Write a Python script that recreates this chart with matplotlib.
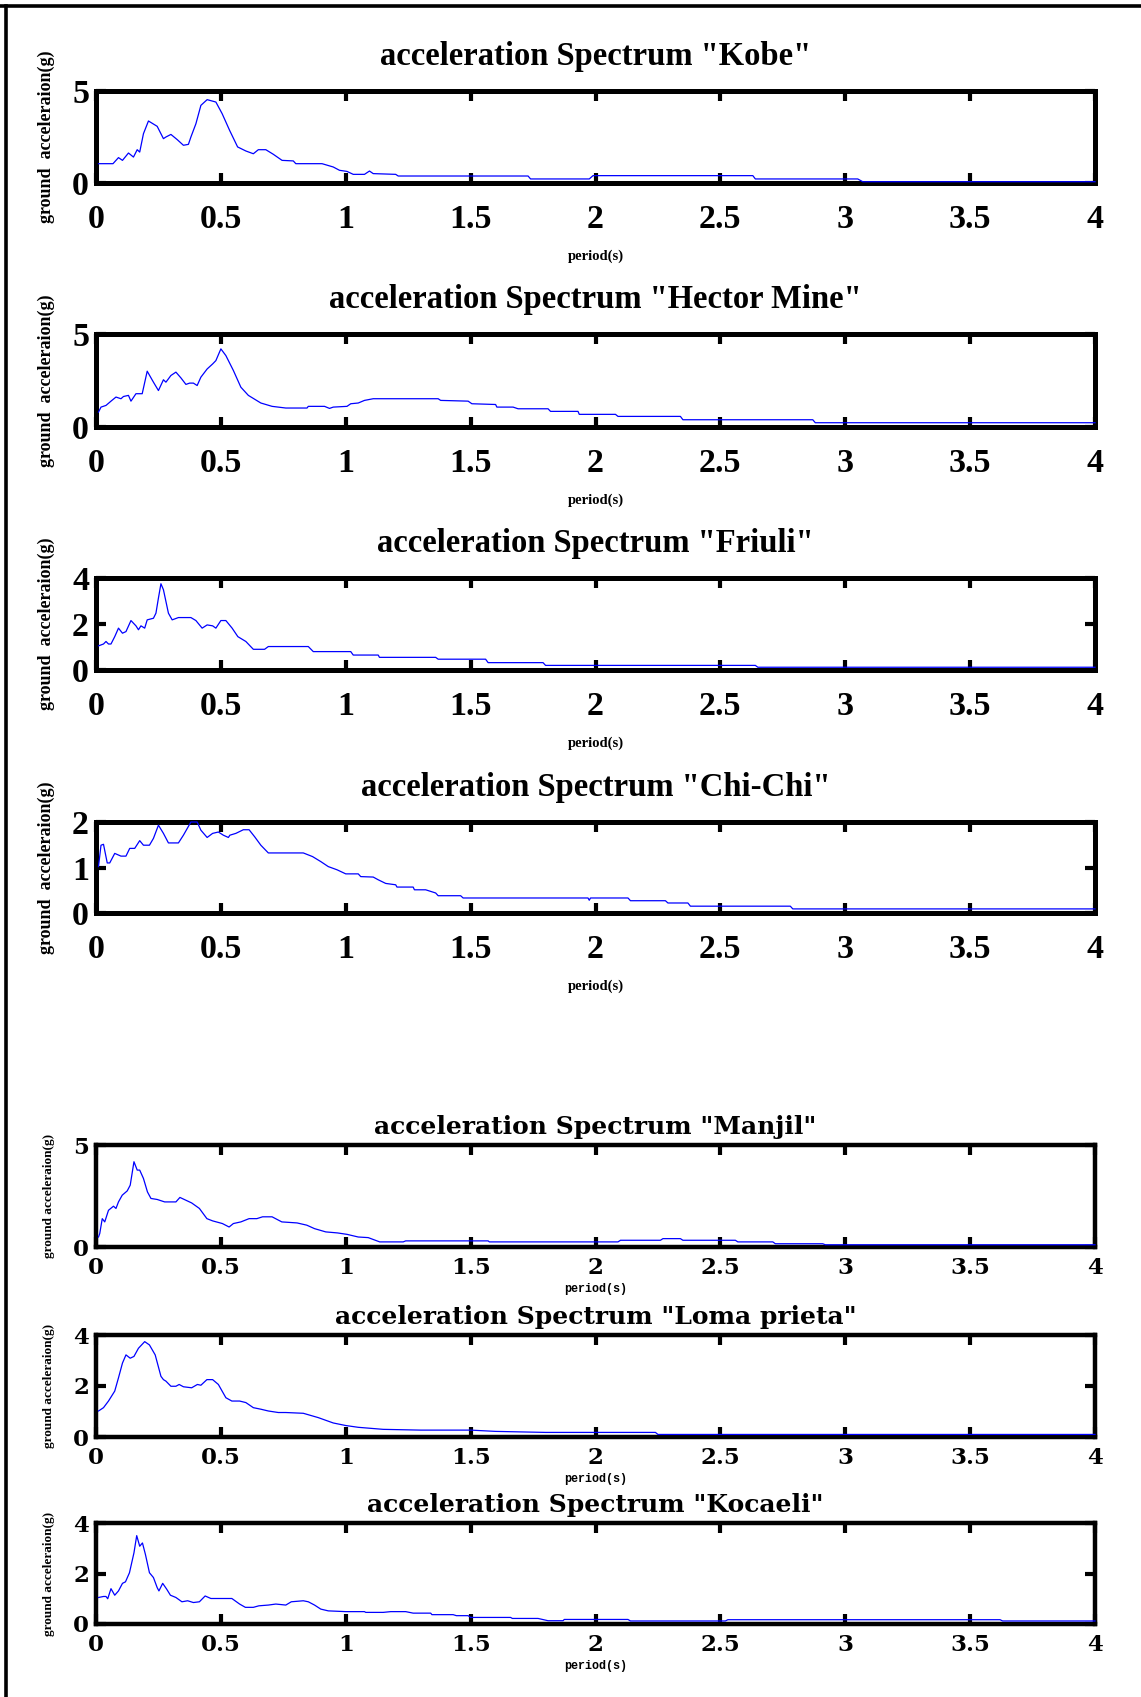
"""Acceleration response spectra of seven ground motions, MATLAB-style panels."""

import numpy as np
import matplotlib
matplotlib.use("Agg")
from matplotlib import pyplot as plt
from matplotlib.lines import Line2D
from matplotlib.ticker import FormatStrFormatter

# ---- data: period (s) and spectral acceleration (g) ----
kobe_t = [0.01, 0.068, 0.09, 0.106, 0.13, 0.15, 0.165, 0.175, 0.19, 0.21, 0.245, 0.27, 0.28, 0.30,
          0.325, 0.35, 0.37, 0.38, 0.40, 0.42, 0.445, 0.48, 0.505, 0.535, 0.567, 0.60, 0.63, 0.65,
          0.68, 0.71, 0.745, 0.79, 0.80, 0.905, 0.95, 0.975, 1.005, 1.03, 1.075, 1.095, 1.11, 1.2,
          1.21, 1.73, 1.74, 1.975, 1.99, 2.63, 2.64, 3.05, 3.07, 4.0]
kobe_sa = [1.05, 1.05, 1.38, 1.23, 1.63, 1.41, 1.81, 1.68, 2.68, 3.37, 3.08, 2.41, 2.5, 2.64,
           2.36, 2.05, 2.1, 2.5, 3.22, 4.22, 4.53, 4.40, 3.77, 2.86, 1.96, 1.74, 1.59, 1.81,
           1.81, 1.56, 1.23, 1.2, 1.05, 1.05, 0.87, 0.69, 0.63, 0.47, 0.47, 0.65, 0.51, 0.47,
           0.38, 0.38, 0.22, 0.22, 0.4, 0.4, 0.22, 0.22, 0.07, 0.07]

hector_t = [0.01, 0.02, 0.04, 0.06, 0.08, 0.1, 0.11, 0.13, 0.14, 0.16, 0.185, 0.205, 0.23, 0.25,
            0.27, 0.28, 0.30, 0.32, 0.34, 0.36, 0.375, 0.39, 0.405, 0.42, 0.445, 0.467, 0.48, 0.50,
            0.52, 0.55, 0.58, 0.61, 0.66, 0.705, 0.76, 0.845, 0.85, 0.915, 0.935, 0.95, 1.005, 1.02,
            1.05, 1.075, 1.11, 1.16, 1.37, 1.38, 1.49, 1.505, 1.6, 1.605, 1.67, 1.69, 1.81, 1.82,
            1.93, 1.935, 2.08, 2.09, 2.34, 2.35, 2.87, 2.88, 4.0]
hector_sa = [0.8, 1.07, 1.16, 1.39, 1.61, 1.52, 1.64, 1.7, 1.39, 1.79, 1.79, 3.0, 2.41, 1.96,
             2.54, 2.41, 2.77, 2.95, 2.64, 2.29, 2.36, 2.36, 2.23, 2.68, 3.12, 3.39, 3.57, 4.2,
             3.84, 3.04, 2.14, 1.7, 1.29, 1.11, 1.02, 1.02, 1.11, 1.11, 1.0, 1.07, 1.11, 1.25,
             1.29, 1.43, 1.52, 1.52, 1.52, 1.43, 1.39, 1.25, 1.21, 1.07, 1.07, 0.98, 0.98, 0.84,
             0.84, 0.68, 0.68, 0.57, 0.57, 0.39, 0.39, 0.23, 0.23]

friuli_t = [0.01, 0.03, 0.04, 0.05, 0.06, 0.075, 0.09, 0.106, 0.12, 0.14, 0.16, 0.17, 0.18, 0.195,
            0.205, 0.23, 0.24, 0.25, 0.26, 0.27, 0.29, 0.305, 0.33, 0.38, 0.40, 0.425, 0.445, 0.467,
            0.48, 0.50, 0.52, 0.545, 0.568, 0.60, 0.63, 0.675, 0.69, 0.85, 0.87, 1.02, 1.03, 1.13,
            1.135, 1.36, 1.37, 1.56, 1.57, 1.79, 1.80, 2.64, 2.65, 4.0]
friuli_sa = [1.05, 1.13, 1.24, 1.13, 1.13, 1.45, 1.82, 1.6, 1.67, 2.15, 1.92, 1.75, 1.92, 1.82,
             2.18, 2.25, 2.47, 3.13, 3.75, 3.49, 2.47, 2.18, 2.28, 2.28, 2.15, 1.82, 1.96, 1.92,
             1.82, 2.15, 2.15, 1.82, 1.45, 1.24, 0.9, 0.9, 1.02, 1.02, 0.8, 0.8, 0.65, 0.65,
             0.55, 0.55, 0.47, 0.47, 0.32, 0.32, 0.2, 0.2, 0.12, 0.12]

chichi_t = [0.01, 0.02, 0.03, 0.045, 0.055, 0.075, 0.1, 0.12, 0.135, 0.155, 0.175, 0.19, 0.214,
            0.23, 0.25, 0.27, 0.29, 0.33, 0.35, 0.38, 0.405, 0.42, 0.445, 0.467, 0.49, 0.51, 0.53,
            0.536, 0.56, 0.59, 0.613, 0.636, 0.66, 0.69, 0.83, 0.867, 0.90, 0.93, 0.965, 1.0, 1.05,
            1.06, 1.11, 1.13, 1.16, 1.2, 1.205, 1.27, 1.275, 1.32, 1.36, 1.37, 1.46, 1.47, 1.97,
            1.975, 1.98, 2.13, 2.14, 2.28, 2.29, 2.37, 2.38, 2.78, 2.79, 4.0]
chichi_sa = [1.02, 1.49, 1.51, 1.1, 1.1, 1.31, 1.25, 1.25, 1.42, 1.42, 1.59, 1.49, 1.49,
             1.64, 1.93, 1.75, 1.54, 1.54, 1.71, 2.0, 2.0, 1.82, 1.66, 1.75, 1.78, 1.71, 1.66,
             1.71, 1.75, 1.83, 1.83, 1.67, 1.49, 1.32, 1.32, 1.24, 1.13, 1.02, 0.95, 0.86, 0.86,
             0.8, 0.79, 0.73, 0.65, 0.62, 0.57, 0.57, 0.51, 0.51, 0.44, 0.38, 0.38, 0.33, 0.33,
             0.28, 0.33, 0.33, 0.27, 0.27, 0.22, 0.22, 0.15, 0.15, 0.09, 0.09]

manjil_t = [0.01, 0.015, 0.025, 0.035, 0.05, 0.07, 0.08, 0.09, 0.105, 0.125, 0.137, 0.152, 0.165,
            0.175, 0.19, 0.206, 0.22, 0.245, 0.275, 0.32, 0.336, 0.383, 0.414, 0.444, 0.467, 0.506,
            0.533, 0.55, 0.58, 0.613, 0.644, 0.667, 0.705, 0.744, 0.805, 0.844, 0.875, 0.92, 0.967,
            1.005, 1.05, 1.09, 1.136, 1.23, 1.24, 1.57, 1.575, 2.09, 2.10, 2.26, 2.27, 2.34, 2.35,
            2.56, 2.57, 2.71, 2.72, 2.91, 2.92, 4.0]
manjil_sa = [0.49, 0.66, 1.39, 1.23, 1.8, 2.0, 1.89, 2.21, 2.54, 2.75, 3.03, 4.18, 3.77,
             3.77, 3.36, 2.7, 2.38, 2.33, 2.21, 2.21, 2.43, 2.16, 1.89, 1.39, 1.28, 1.15,
             0.98, 1.15, 1.23, 1.39, 1.39, 1.48, 1.48, 1.23, 1.18, 1.07, 0.9, 0.74, 0.69,
             0.62, 0.49, 0.46, 0.25, 0.25, 0.3, 0.3, 0.25, 0.25, 0.33, 0.33, 0.41, 0.41, 0.33,
             0.33, 0.25, 0.25, 0.16, 0.16, 0.11, 0.11]

loma_t = [0.01, 0.03, 0.05, 0.075, 0.09, 0.106, 0.12, 0.137, 0.152, 0.17, 0.195, 0.214, 0.237,
          0.26, 0.27, 0.28, 0.3, 0.32, 0.333, 0.35, 0.383, 0.406, 0.42, 0.444, 0.467, 0.49, 0.52,
          0.544, 0.575, 0.6, 0.63, 0.66, 0.69, 0.73, 0.76, 0.83, 0.89, 0.95, 1.0, 1.05, 1.15,
          1.3, 1.5, 1.6, 1.8, 2.0, 2.24, 2.25, 4.0]
loma_sa = [1.02, 1.15, 1.41, 1.8, 2.32, 2.9, 3.22, 3.09, 3.16, 3.48, 3.74, 3.61, 3.22,
           2.38, 2.25, 2.19, 1.99, 1.99, 2.06, 1.97, 1.93, 2.06, 2.03, 2.25, 2.25, 2.06, 1.54,
           1.41, 1.41, 1.35, 1.15, 1.09, 1.02, 0.96, 0.96, 0.93, 0.76, 0.55, 0.45, 0.38, 0.3,
           0.27, 0.27, 0.22, 0.18, 0.18, 0.18, 0.1, 0.1]

kocaeli_t = [0.01, 0.03, 0.04, 0.047, 0.06, 0.075, 0.09, 0.106, 0.118, 0.134, 0.152, 0.163, 0.175,
             0.186, 0.198, 0.214, 0.23, 0.245, 0.252, 0.267, 0.283, 0.298, 0.32, 0.344, 0.367, 0.39,
             0.414, 0.437, 0.46, 0.544, 0.575, 0.598, 0.63, 0.652, 0.69, 0.72, 0.76, 0.782, 0.83,
             0.85, 0.875, 0.9, 0.93, 1.0, 1.075, 1.08, 1.15, 1.18, 1.24, 1.27, 1.34, 1.345, 1.43,
             1.443, 1.49, 1.5, 1.66, 1.667, 1.77, 1.81, 1.87, 1.875, 2.13, 2.14, 2.52, 2.53, 3.62,
             3.63, 4.0]
kocaeli_sa = [1.05, 1.09, 1.09, 1.0, 1.4, 1.14, 1.31, 1.61, 1.67, 2.03, 2.82, 3.5, 3.08,
              3.21, 2.75, 2.03, 1.84, 1.44, 1.31, 1.61, 1.38, 1.14, 1.05, 0.88, 0.92, 0.85,
              0.88, 1.11, 1.01, 1.01, 0.79, 0.66, 0.66, 0.72, 0.75, 0.79, 0.75, 0.88, 0.92,
              0.88, 0.75, 0.59, 0.52, 0.49, 0.49, 0.46, 0.46, 0.49, 0.49, 0.43, 0.43, 0.37, 0.37,
              0.33, 0.33, 0.26, 0.26, 0.22, 0.22, 0.13, 0.13, 0.18, 0.18, 0.12, 0.12, 0.17, 0.17,
              0.12, 0.12]

names = ["Kobe", "Hector Mine", "Friuli", "Chi-Chi", "Manjil", "Loma prieta", "Kocaeli"]
periods = [kobe_t, hector_t, friuli_t, chichi_t, manjil_t, loma_t, kocaeli_t]
spectra = [kobe_sa, hector_sa, friuli_sa, chichi_sa, manjil_sa, loma_sa, kocaeli_sa]
y_max = [5, 5, 4, 2, 5, 4, 4]
y_ticks = [[0, 5], [0, 5], [0, 2, 4], [0, 1, 2], [0, 5], [0, 2, 4], [0, 2, 4]]
x_ticks = np.arange(0, 4.01, 0.5)

# ---- layout (pixels of the 1141 x 1697 output) ----
W, H = 1141, 1697
ax_left, ax_right = 96, 1095
ax_rows = [(91, 183), (334, 427), (578, 670), (822, 913), (1145, 1247), (1335, 1437), (1523, 1624)]

fig = plt.figure(figsize=(W / 100, H / 100), dpi=100)
fig.patch.set_facecolor("white")

# frame left by the scan: top and left edges only
fig.add_artist(Line2D([0, 1], [1 - 6 / H, 1 - 6 / H], transform=fig.transFigure, color="black", lw=2.6))
fig.add_artist(Line2D([6 / W, 6 / W], [0, 1 - 6 / H], transform=fig.transFigure, color="black", lw=2.6))

for i, name in enumerate(names):
    top, bot = ax_rows[i]
    ax = fig.add_axes([ax_left / W, 1 - bot / H, (ax_right - ax_left) / W, (bot - top) / H])
    ax.plot(periods[i], spectra[i], color="#0000ff", lw=0.9, zorder=3, clip_on=False)
    ax.set_xlim(0, 4)
    ax.set_ylim(0, y_max[i])
    ax.set_xticks(x_ticks)
    ax.set_yticks(y_ticks[i])
    ax.xaxis.set_major_formatter(FormatStrFormatter("%g"))
    ax.yaxis.set_major_formatter(FormatStrFormatter("%g"))
    ax.tick_params(which="both", direction="in", top=True, right=True, length=7, width=3, color="black")
    h_px = bot - top
    title = 'acceleration Spectrum "%s"' % name

    if i < 4:
        # upper block: tall, narrow bold serif
        for s in ax.spines.values():
            s.set_linewidth(3.6)
        tfont = dict(family="Liberation Serif", weight="bold")
        ax.tick_params(axis="x", pad=15, labelsize=24.5)
        ax.tick_params(axis="y", pad=5, labelsize=24.5)
        for lab in ax.get_xticklabels() + ax.get_yticklabels():
            lab.set_fontfamily("Liberation Serif")
            lab.set_fontweight("bold")
        ax.set_title(title, fontsize=23.5, pad=19, **tfont)
        ax.set_ylabel("ground  acceleraion(g)", fontsize=13, **tfont)
        ax.set_xlabel("period(s)", fontsize=10.5, **tfont)
        ax.yaxis.set_label_coords(-0.041, 0.5)
        ax.xaxis.set_label_coords(0.5, -(67 / h_px))
    else:
        # lower block: wide bold serif, smaller
        for s in ax.spines.values():
            s.set_linewidth(3.2)
        ax.tick_params(axis="x", pad=7, labelsize=16.5)
        ax.tick_params(axis="y", pad=5, labelsize=16.5)
        for lab in ax.get_xticklabels() + ax.get_yticklabels():
            lab.set_fontfamily("DejaVu Serif")
            lab.set_fontweight("bold")
        ax.set_title(title, fontsize=18, pad=8, family="DejaVu Serif", weight="bold")
        ax.set_ylabel("ground acceleraion(g)", fontsize=9.5, family="Liberation Serif", weight="bold")
        ax.set_xlabel("period(s)", fontsize=8.5, family="Liberation Mono", weight="bold")
        ax.yaxis.set_label_coords(-0.041, 0.5)
        ax.xaxis.set_label_coords(0.5, -(36 / h_px))

fig.savefig("out.png", dpi=100, facecolor="white")
